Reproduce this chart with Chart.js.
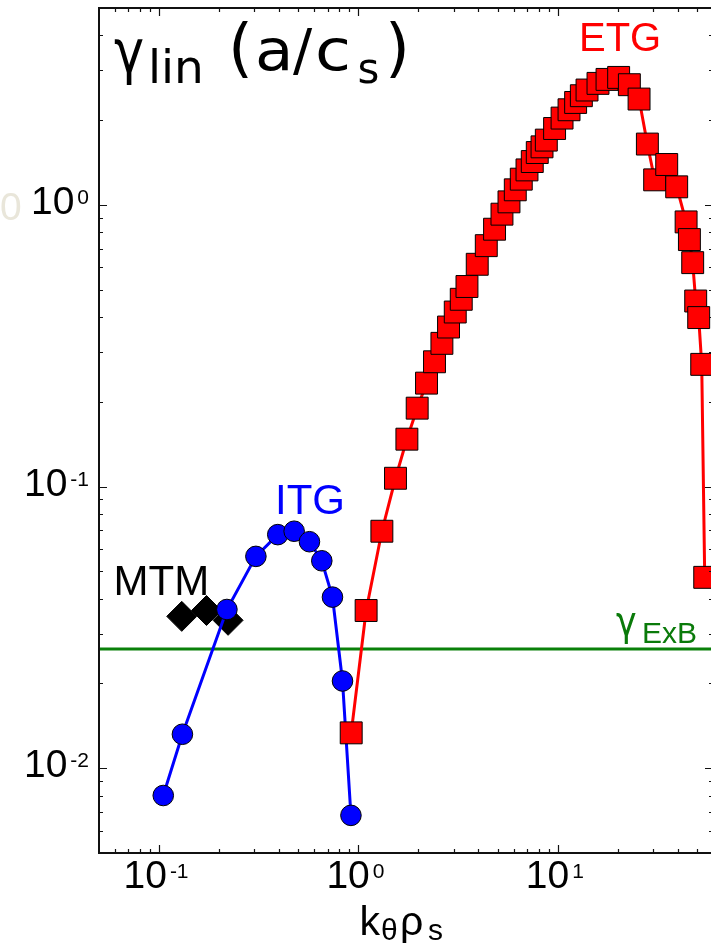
<!DOCTYPE html>
<html>
<head>
<meta charset="utf-8">
<title>Linear growth rates</title>
<script src="https://cdn.jsdelivr.net/npm/chart.js@4.4.1/dist/chart.umd.min.js"></script>
<style>
  html, body { margin: 0; padding: 0; background: #fff; overflow: hidden; }
  #wrap { width: 711px; height: 946px; overflow: hidden; }
  canvas { display: block; }
</style>
</head>
<body>
<div id="wrap"><canvas id="growth" width="716" height="946"></canvas></div>
<script>
// --- Data: gamma_lin (a/c_s) vs k_theta rho_s ---
const itgK     = [0.105, 0.131, 0.219, 0.306, 0.394, 0.476, 0.568, 0.655, 0.741, 0.832, 0.917];
const itgGamma = [0.0080, 0.0132, 0.0366, 0.0565, 0.0675, 0.0694, 0.0637, 0.0545, 0.0405, 0.0204, 0.0068];

const mtmK     = [0.130, 0.173, 0.222];
const mtmGamma = [0.0346, 0.0363, 0.0335];

const etgK = [0.920, 1.093, 1.311, 1.534, 1.750, 1.971, 2.195, 2.407, 2.622, 2.831,
              3.059, 3.278, 3.502, 3.943, 4.377, 4.816, 5.246, 5.689, 6.118, 6.556,
              7.004, 7.443, 7.886, 8.332, 8.755, 9.632, 10.50, 11.38, 12.28, 13.12,
              14.01, 15.90, 17.65, 20.18, 22.84, 25.55, 28.12, 30.59, 35.16, 39.45,
              43.98, 45.69, 47.46, 49.14, 50.87, 52.67, 54.53];
const etgGamma = [0.01335, 0.0363, 0.0694, 0.1070, 0.1473, 0.1898, 0.2329, 0.2773, 0.3224, 0.3684,
                  0.4165, 0.4622, 0.5131, 0.6153, 0.7165, 0.8196, 0.9268, 1.025, 1.131, 1.234,
                  1.331, 1.425, 1.534, 1.607, 1.698, 1.867, 2.033, 2.176, 2.310, 2.441,
                  2.557, 2.700, 2.789, 2.835, 2.671, 2.375, 1.644, 1.227, 1.391, 1.159,
                  0.870, 0.753, 0.6236, 0.4557, 0.398, 0.2715, 0.0476];

const gammaExB = 0.0265;

const xRange = [0.05, 60];
const yRange = [0.005, 5];
const xDecades = [0.1, 1, 10];
const xDecadeExp = ['-1', '0', '1'];
const yDecades = [0.01, 0.1, 1];
const yDecadeExp = ['-2', '-1', '0'];

// --- helpers ---
const pts = (xs, ys) => xs.map((x, i) => ({x, y: ys[i]}));
const SANS = '"Liberation Sans", Arial, Helvetica, sans-serif';
const DJV = '"DejaVu Sans", sans-serif';

function logTicks(min, max) {
  const out = [];
  for (let e = Math.floor(Math.log10(min)); e <= Math.ceil(Math.log10(max)); e++) {
    for (let m = 1; m <= 9; m++) {
      const v = m * Math.pow(10, e);
      if (v >= min * (1 - 1e-9) && v <= max * (1 + 1e-9)) out.push({value: v, major: m === 1});
    }
  }
  return out;
}

function txt(ctx, s, x, y, size, color, family, sx) {
  ctx.save();
  ctx.font = `${size}px ${family || SANS}`;
  ctx.fillStyle = color || '#000';
  ctx.textAlign = 'left';
  ctx.textBaseline = 'alphabetic';
  if (sx) { ctx.translate(x, y); ctx.scale(sx, 1); ctx.fillText(s, 0, 0); }
  else ctx.fillText(s, x, y);
  ctx.restore();
}

// "10" with a raised exponent
function powWidth(ctx, exp) {
  ctx.font = `39px ${SANS}`; const a = ctx.measureText('10').width;
  ctx.font = `21px ${SANS}`; const b = ctx.measureText(exp).width;
  return a + 3 + b;
}
function drawPow(ctx, exp, x, base) {
  ctx.font = `39px ${SANS}`;
  const a = ctx.measureText('10').width;
  txt(ctx, '10', x, base, 39);
  txt(ctx, exp, x + a + 3, base - 10, 21);
}

// frame, inward ticks, tick labels and annotations
const decorations = {
  id: 'decorations',
  afterDatasetsDraw(chart) {
    const {ctx, chartArea: a, scales: {x, y}} = chart;
    ctx.save();
    ctx.strokeStyle = '#111';
    ctx.lineWidth = 1.2;
    ctx.beginPath();
    for (const t of x.ticks) {
      const px = Math.round(x.getPixelForValue(t.value)) + 0.5;
      if (px <= a.left + 1 || px >= a.right - 1) continue;
      const len = t.major ? 8 : 4;
      ctx.moveTo(px, a.bottom); ctx.lineTo(px, a.bottom - len);
      ctx.moveTo(px, a.top); ctx.lineTo(px, a.top + len);
    }
    for (const t of y.ticks) {
      const py = Math.round(y.getPixelForValue(t.value)) + 0.5;
      if (py <= a.top + 1 || py >= a.bottom - 1) continue;
      const len = t.major ? 8 : 4;
      ctx.moveTo(a.left, py); ctx.lineTo(a.left + len, py);
      ctx.moveTo(a.right, py); ctx.lineTo(a.right - len, py);
    }
    ctx.stroke();
    ctx.lineWidth = 2;
    ctx.strokeStyle = '#111';
    ctx.strokeRect(a.left, a.top, a.right - a.left, a.bottom - a.top);
    ctx.restore();
  },
  afterDraw(chart) {
    const {ctx, chartArea: a, scales: {x, y}} = chart;
    // tick labels
    xDecades.forEach((v, i) => {
      const w = powWidth(ctx, xDecadeExp[i]);
      drawPow(ctx, xDecadeExp[i], x.getPixelForValue(v) - w / 2 - 3, a.bottom + 35);
    });
    yDecades.forEach((v, i) => {
      const w = powWidth(ctx, yDecadeExp[i]);
      drawPow(ctx, yDecadeExp[i], 89 - w, y.getPixelForValue(v) + 9);
    });
    // axis title k_theta rho_s
    txt(ctx, 'k', 359.5, 935, 41);
    txt(ctx, '\u03b8', 381, 940, 30);
    txt(ctx, '\u03c1', 400, 935, 41);
    txt(ctx, 's', 428, 940, 30);
    // panel title gamma_lin (a/c_s)
    txt(ctx, '\u03b3', 114, 72, 60, '#000', DJV, 0.85);
    txt(ctx, 'lin', 148, 83, 47, '#000', DJV);
    txt(ctx, '(', 228, 70, 64, '#000', DJV);
    txt(ctx, 'a', 255, 70, 57, '#000', DJV, 1.1);
    txt(ctx, '/', 293, 70, 57, '#000', DJV);
    txt(ctx, 'c', 315, 70, 57, '#000', DJV, 1.15);
    txt(ctx, 's', 357.5, 83, 42, '#000', DJV);
    txt(ctx, ')', 385, 70, 64, '#000', DJV);
    // series labels
    txt(ctx, 'ETG', 579, 51, 40, '#ff0000');
    txt(ctx, 'ITG', 275, 514, 42, '#0000ff');
    txt(ctx, 'MTM', 113.5, 595, 42, '#000');
    txt(ctx, '\u03b3', 616, 635, 41, '#0a7a0a', DJV, 0.85);
    txt(ctx, 'ExB', 642, 643, 30, '#0a7a0a');
    // faint digit at the left margin
    txt(ctx, '0', 0, 220, 39, '#e9e6da');
  }
};

const ctx = document.getElementById('growth').getContext('2d');
new Chart(ctx, {
  type: 'scatter',
  data: {
    datasets: [
      {
        label: 'ETG', data: pts(etgK, etgGamma), showLine: true, order: 1,
        borderColor: '#ff0000', borderWidth: 3, backgroundColor: '#ff0000',
        pointStyle: 'rect', pointRadius: 15.5, pointBorderColor: '#000', pointBorderWidth: 1,
        pointBackgroundColor: '#ff0000'
      },
      {
        label: 'ITG', data: pts(itgK, itgGamma), showLine: true, order: 2,
        borderColor: '#0000ff', borderWidth: 3, backgroundColor: '#0000ff',
        pointStyle: 'circle', pointRadius: 10.3, pointBorderColor: '#000', pointBorderWidth: 1,
        pointBackgroundColor: '#0000ff'
      },
      {
        label: 'MTM', data: pts(mtmK, mtmGamma), showLine: false, order: 3,
        pointStyle: 'rectRot', pointRadius: 15, pointBorderColor: '#000', pointBorderWidth: 1,
        pointBackgroundColor: '#000'
      },
      {
        label: 'ExB', data: pts(xRange, [gammaExB, gammaExB]), showLine: true, order: 4,
        borderColor: '#0a800a', borderWidth: 3.2, pointRadius: 0
      }
    ]
  },
  options: {
    responsive: false,
    animation: false,
    events: [],
    layout: {autoPadding: false, padding: {top: 8, right: 3, left: 0, bottom: 0}},
    plugins: {legend: {display: false}, tooltip: {enabled: false}},
    scales: {
      x: {
        type: 'logarithmic', position: 'bottom', min: xRange[0], max: xRange[1],
        grid: {display: false}, border: {display: false},
        ticks: {display: false, autoSkip: false},
        afterBuildTicks: s => { s.ticks = logTicks(xRange[0], xRange[1]); },
        afterFit: s => { s.height = 93; }
      },
      y: {
        type: 'logarithmic', position: 'left', min: yRange[0], max: yRange[1],
        grid: {display: false}, border: {display: false},
        ticks: {display: false, autoSkip: false},
        afterBuildTicks: s => { s.ticks = logTicks(yRange[0], yRange[1]); },
        afterFit: s => { s.width = 99; }
      }
    }
  },
  plugins: [decorations]
});
</script>
</body>
</html>
